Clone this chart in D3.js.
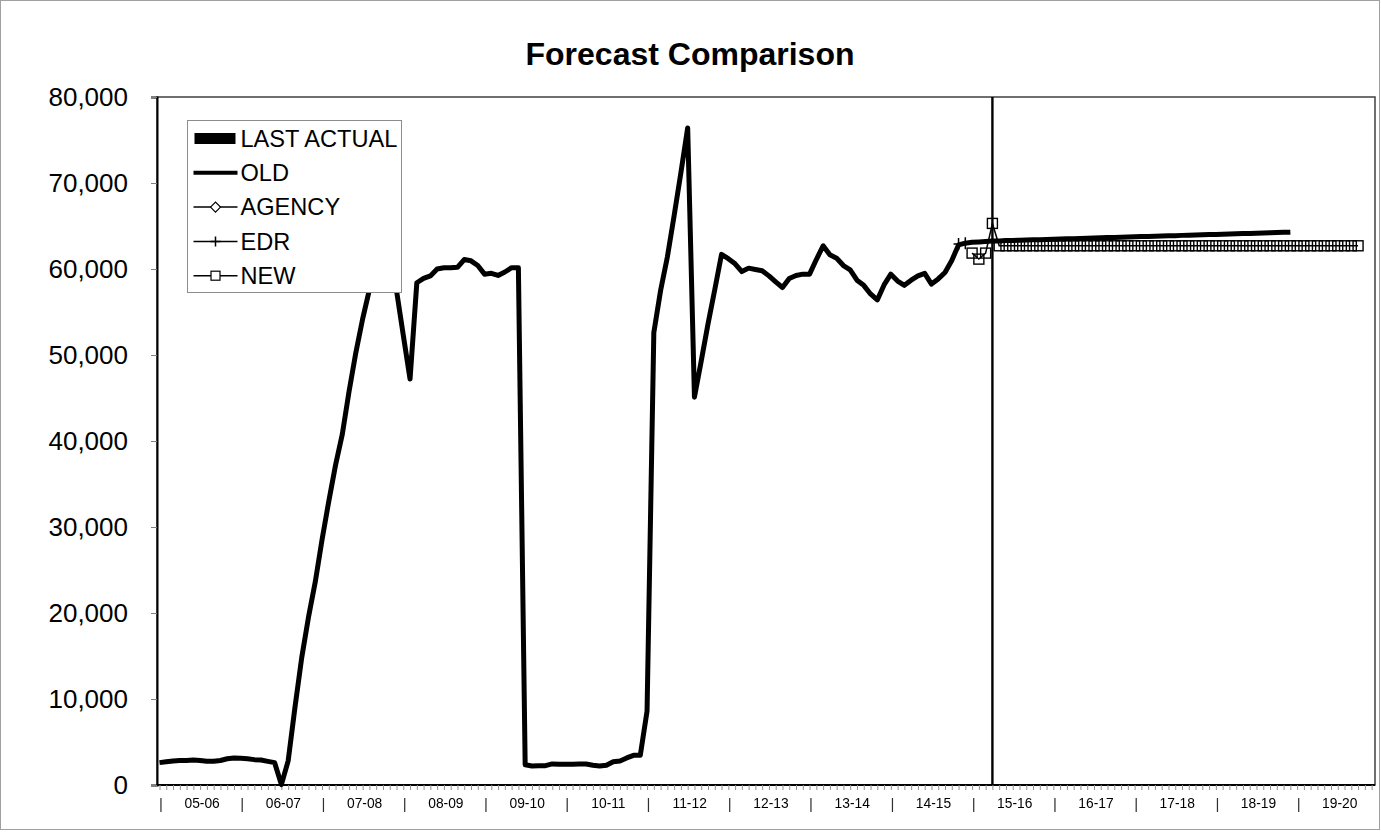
<!DOCTYPE html>
<html>
<head>
<meta charset="utf-8">
<script src="https://cdn.jsdelivr.net/npm/d3@7/dist/d3.min.js"></script>
<style>
  body { margin: 0; background: #fff; }
  svg { display: block; font-family: Arial, "Liberation Sans", sans-serif; }
</style>
</head>
<body>
<div id="chart"></div>
<script>
// fiscal years on the category axis, 12 months each
const yearLabels = ['05-06', '06-07', '07-08', '08-09', '09-10', '10-11', '11-12', '12-13',
                    '13-14', '14-15', '15-16', '16-17', '17-18', '18-19', '19-20']
const yTicks = [0, 10000, 20000, 30000, 40000, 50000, 60000, 70000, 80000]

// OLD: actuals from month 0 then the old forecast
const oldStart = 0
const oldSeries = [
  2600, 2700, 2800, 2850, 2850, 2900, 2850, 2750, 2750, 2850, 3050, 3150,
  3100, 3050, 2950, 2900, 2750, 2600, 50, 2800, 9000, 14800, 19500, 23600,
  28500, 33000, 37200, 40800, 45800, 50300, 54200, 57600, 60500, 62000, 61000, 57500,
  52300, 47200, 58400, 58900, 59200, 60000, 60150, 60150, 60200, 61100, 60950, 60400,
  59400, 59500, 59250, 59650, 60150, 60150, 2350, 2200, 2250, 2250, 2450, 2400,
  2400, 2400, 2450, 2450, 2300, 2200, 2300, 2700, 2800, 3150, 3450, 3450,
  8600, 52600, 57500, 61400, 66200, 71200, 76400, 45100, 49300, 53600, 57600, 61700,
  61200, 60600, 59700, 60100, 59950, 59800, 59200, 58500, 57850, 58900, 59250, 59400,
  59400, 61100, 62700, 61650, 61250, 60400, 59900, 58700, 58100, 57100, 56400, 58150,
  59400, 58600, 58100, 58700, 59200, 59500, 58250, 58850, 59600, 61000, 62800, 63000,
  63100, 63150, 63200, 63250, 63270, 63300, 63320, 63340, 63370, 63390, 63410, 63440,
  63460, 63480, 63510, 63530, 63560, 63580, 63600, 63630, 63650, 63670, 63700, 63720,
  63740, 63770, 63790, 63810, 63840, 63860, 63880, 63910, 63930, 63950, 63980, 64000,
  64020, 64050, 64070, 64090, 64120, 64140, 64160, 64190, 64210, 64230, 64260, 64280
]
const agencyStart = 0
const agencySeries = []
const edrStart = 118
const edrSeries = [62900, 63000]
const newStart = 120
const newSeries = [
  61850, 61150, 61850, 65300,
  62700, 62700, 62700, 62700, 62700, 62700, 62700, 62700, 62700, 62700, 62700, 62700, 62700, 62700,
  62700, 62700, 62700, 62700, 62700, 62700, 62700, 62700, 62700, 62700, 62700, 62700, 62700, 62700,
  62700, 62700, 62700, 62700, 62700, 62700, 62700, 62700, 62700, 62700, 62700, 62700, 62700, 62700,
  62700, 62700, 62700, 62700, 62700, 62700, 62700, 62700, 62700, 62700, 62700, 62700
]
const lastActualIndex = 123
const lastActualValue = 80000
const monthCount = yearLabels.length * 12

const width = 1381
const height = 833
const plot = {left: 157, top: 97, right: 1375, bottom: 785}

const svg = d3.select('#chart').append('svg')
  .attr('width', width)
  .attr('height', height)

// greyscale filter so thin glyphs don't get coloured fringes
svg.append('defs').append('filter')
  .attr('id', 'grey')
  .append('feColorMatrix')
  .attr('type', 'saturate')
  .attr('values', 0)

svg.append('rect')
  .attr('x', 0.5).attr('y', 0.5)
  .attr('width', width - 2).attr('height', height - 4)
  .attr('fill', '#fff')
  .attr('stroke', '#a0a0a0')

const x = d3.scaleLinear()
  .domain([0, monthCount - 0.5])
  .range([159.5, plot.right])

const y = d3.scaleLinear()
  .domain([0, 80000])
  .range([plot.bottom, plot.top])

const toPoints = (start, values) => values.map((v, i) => ({i: start + i, v: v}))

// title
svg.append('text')
  .attr('x', 690)
  .attr('y', 65)
  .attr('text-anchor', 'middle')
  .attr('font-size', 32)
  .attr('font-weight', 'bold')
  .text('Forecast Comparison')

// plot frame
svg.append('rect')
  .attr('x', plot.left).attr('y', plot.top)
  .attr('width', plot.right - plot.left)
  .attr('height', plot.bottom - plot.top)
  .attr('fill', 'none')
  .attr('stroke', '#404040')
  .attr('stroke-width', 1.5)

// y axis
const gY = svg.append('g')
  .attr('transform', `translate(${plot.left},0)`)
  .call(d3.axisLeft(y).tickValues(yTicks).tickFormat(d3.format(',')).tickSize(6).tickPadding(23))
gY.select('.domain').attr('stroke', '#000').attr('stroke-width', 2)
gY.selectAll('.tick line').attr('stroke', '#808080')
gY.selectAll('.tick text')
  .attr('font-size', 26)
  .attr('font-family', 'Arial, "Liberation Sans", sans-serif')
  .attr('fill', '#000')

// x axis: a minor tick every month
const gX = svg.append('g')
  .attr('transform', `translate(0,${plot.bottom})`)
  .call(d3.axisBottom(x).tickValues(d3.range(monthCount)).tickFormat('').tickSize(5).tickSizeOuter(0))
gX.select('.domain').attr('d', `M${plot.left},0H${plot.right}`).attr('stroke', '#000').attr('stroke-width', 2)
gX.selectAll('.tick line').attr('stroke', '#909090')

// year separators and labels
const labels = svg.append('g').attr('filter', 'url(#grey)')
labels.selectAll('.sep')
  .data(yearLabels)
  .enter().append('text')
  .attr('class', 'sep')
  .attr('x', (d, k) => x(k * 12) + 1.5)
  .attr('y', 809)
  .attr('text-anchor', 'middle')
  .attr('font-size', 15)
  .attr('fill', '#303030')
  .text('|')

labels.selectAll('.year')
  .data(yearLabels)
  .enter().append('text')
  .attr('class', 'year')
  .attr('x', (d, k) => x(k * 12 + 6) + 2)
  .attr('y', 808)
  .attr('text-anchor', 'middle')
  .attr('font-size', 13.8)
  .attr('fill', '#000')
  .text(d => d)

const line = d3.line()
  .x(d => x(d.i))
  .y(d => y(d.v))

// LAST ACTUAL column
svg.append('rect')
  .attr('x', x(lastActualIndex) - 1.2)
  .attr('y', y(lastActualValue))
  .attr('width', 2.4)
  .attr('height', y(0) - y(lastActualValue))
  .attr('fill', '#000')

// OLD
svg.append('path')
  .datum(toPoints(oldStart, oldSeries))
  .attr('fill', 'none')
  .attr('stroke', '#000')
  .attr('stroke-width', 5)
  .attr('stroke-linejoin', 'round')
  .attr('d', line)

// AGENCY
const agencyPts = toPoints(agencyStart, agencySeries)
svg.append('path')
  .datum(agencyPts)
  .attr('fill', 'none')
  .attr('stroke', '#000')
  .attr('stroke-width', 1.5)
  .attr('d', agencyPts.length ? line : null)
svg.selectAll('.agency')
  .data(agencyPts)
  .enter().append('path')
  .attr('class', 'agency')
  .attr('transform', d => `translate(${x(d.i)},${y(d.v)})`)
  .attr('d', 'M-5,0L0,-5L5,0L0,5Z')
  .attr('fill', 'none')
  .attr('stroke', '#000')

// EDR
const edrPts = toPoints(edrStart, edrSeries)
svg.append('path')
  .datum(edrPts)
  .attr('fill', 'none')
  .attr('stroke', '#000')
  .attr('stroke-width', 1.5)
  .attr('d', line)
svg.selectAll('.edr')
  .data(edrPts)
  .enter().append('path')
  .attr('class', 'edr')
  .attr('transform', d => `translate(${x(d.i)},${y(d.v)})`)
  .attr('d', 'M-5,0H5M0,-6V6')
  .attr('stroke', '#000')
  .attr('stroke-width', 1.5)

// NEW
const newPts = toPoints(newStart, newSeries)
svg.append('path')
  .datum(newPts)
  .attr('fill', 'none')
  .attr('stroke', '#000')
  .attr('stroke-width', 1.5)
  .attr('d', line)
svg.selectAll('.new')
  .data(newPts)
  .enter().append('rect')
  .attr('class', 'new')
  .attr('x', d => x(d.i) - 5)
  .attr('y', d => y(d.v) - 5)
  .attr('width', 10)
  .attr('height', 10)
  .attr('fill', 'none')
  .attr('stroke', '#000')
  .attr('stroke-width', 1.4)

// legend
const legendItems = ['LAST ACTUAL', 'OLD', 'AGENCY', 'EDR', 'NEW']
const legend = svg.append('g').attr('transform', 'translate(187.5,120.5)')
legend.append('rect')
  .attr('width', 214)
  .attr('height', 172)
  .attr('fill', '#fff')
  .attr('stroke', '#8c8c8c')

const rows = legend.selectAll('.row')
  .data(legendItems)
  .enter().append('g')
  .attr('class', 'row')
  .attr('transform', (d, k) => `translate(0,${18 + k * 34.3})`)

rows.append('text')
  .attr('x', 53)
  .attr('y', 0)
  .attr('dy', '0.35em')
  .attr('font-size', 23.6)
  .text(d => d)

rows.filter(d => d === 'LAST ACTUAL').append('rect')
  .attr('x', 7).attr('y', -5.5).attr('width', 41).attr('height', 11).attr('fill', '#000')
rows.filter(d => d === 'OLD').append('line')
  .attr('x1', 6).attr('x2', 50).attr('stroke', '#000').attr('stroke-width', 4)
rows.filter(d => d !== 'LAST ACTUAL' && d !== 'OLD').append('line')
  .attr('x1', 6).attr('x2', 50).attr('stroke', '#000').attr('stroke-width', 1.5)
rows.filter(d => d === 'AGENCY').append('path')
  .attr('transform', 'translate(28,0)')
  .attr('d', 'M-5,0L0,-5L5,0L0,5Z').attr('fill', '#fff').attr('stroke', '#000').attr('stroke-width', 1.2)
rows.filter(d => d === 'EDR').append('path')
  .attr('transform', 'translate(28,0)')
  .attr('d', 'M-5,0H5M0,-5V5').attr('stroke', '#000').attr('stroke-width', 1.5)
rows.filter(d => d === 'NEW').append('rect')
  .attr('x', 23.5).attr('y', -4.5).attr('width', 9).attr('height', 9)
  .attr('fill', '#fff').attr('stroke', '#000').attr('stroke-width', 1.2)
</script>
</body>
</html>
